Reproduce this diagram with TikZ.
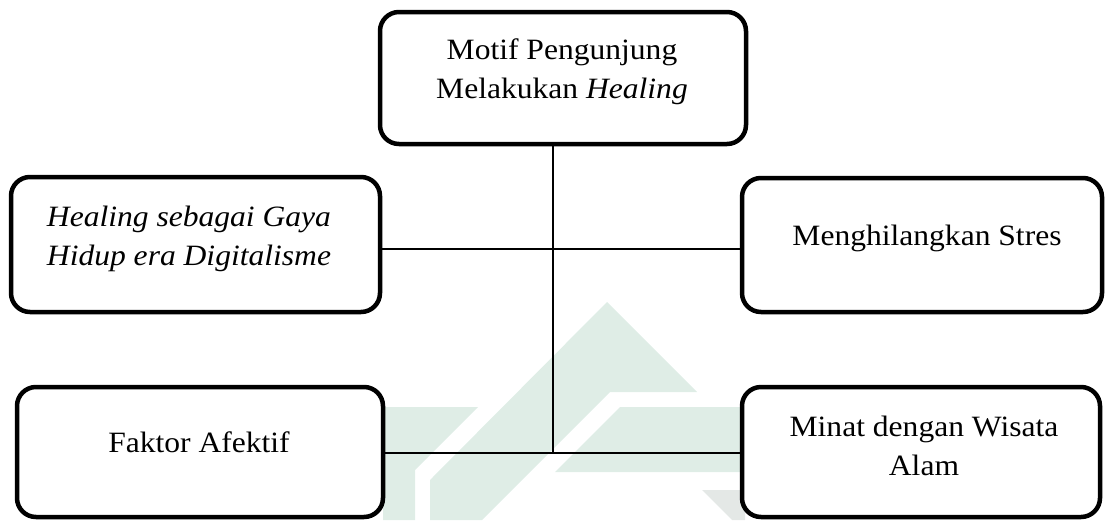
\documentclass[tikz,border=0pt]{standalone}
\usepackage{fontspec}
\setmainfont{Liberation Serif}[FakeStretch=1.07]
\definecolor{wm}{RGB}{223,237,230}
\definecolor{wmgray}{RGB}{228,232,230}
\begin{document}
\begin{tikzpicture}[x=1pt,y=-1pt,
  boxstyle/.style={draw=black,line width=4.5pt,rounded corners=19pt,fill=white,inner sep=0pt},
  txt/.style={font=\fontsize{29.5}{38.5}\selectfont,align=center,inner sep=0pt,anchor=base},
  conn/.style={draw=black,line width=1.5pt}]
\useasboundingbox (0,0) rectangle (1105,520);
% faint watermark
\fill[wm] (607,302) -- (697,392) -- (610,392) -- (482,520) -- (430,520) -- (430,480) -- cycle;
\fill[wm] (620,407) -- (745,407) -- (745,472) -- (555,472) -- cycle;
\fill[wm] (383,407) -- (478,407) -- (415,470) -- (415,520) -- (383,520) -- cycle;
\fill[wmgray] (702,490) -- (745,490) -- (745,520) -- (732,520) -- cycle;
% boxes
\node[boxstyle,minimum width=366pt,minimum height=132pt] (top) at (563,78) {};
\node[boxstyle,minimum width=369pt,minimum height=135pt] (midL) at (195.5,244.5) {};
\node[boxstyle,minimum width=360pt,minimum height=134pt] (midR) at (922,245) {};
\node[boxstyle,minimum width=366pt,minimum height=130pt] (botL) at (200,452) {};
\node[boxstyle,minimum width=358pt,minimum height=130pt] (botR) at (921,452) {};
% texts (base anchor = baseline of last line)
\node[txt] (t1) at (562,98) {Motif Pengunjung\\Melakukan \textit{Healing}};
\node[txt] (t2) at (189,265) {\textit{Healing sebagai Gaya}\\\textit{Hidup era Digitalisme}};
\node[txt] (t3) at (927,245) {Menghilangkan Stres};
\node[txt] (t4) at (199,452) {Faktor Afektif};
\node[txt] (t5) at (924,475) {Minat dengan Wisata\\Alam};
% connectors
\coordinate (j1) at (553,249);
\coordinate (j2) at (553,453);
\draw[conn] (top.south -| j1) -- (j2);
\draw[conn] (midL.east |- j1) -- (midR.west |- j1);
\draw[conn] (botL.east |- j2) -- (botR.west |- j2);
\end{tikzpicture}
\end{document}
